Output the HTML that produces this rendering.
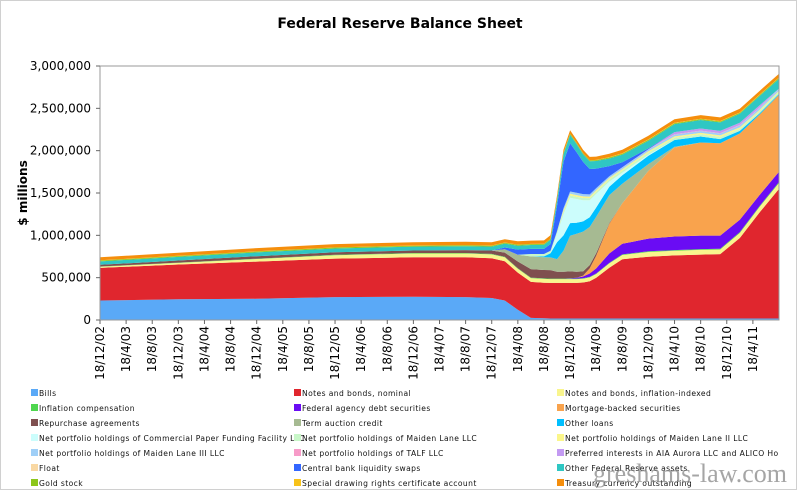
<!DOCTYPE html>
<html><head><meta charset="utf-8"><style>
body{margin:0;background:#fff;}
svg{display:block;font-family:"DejaVu Sans","Liberation Sans",sans-serif;}
</style></head><body>
<svg id="chart" width="800" height="491">
<rect x="0.5" y="0.5" width="796" height="489" fill="#fff" stroke="#d0d0d0"/>
<text x="400" y="28" text-anchor="middle" font-weight="bold" font-size="14" fill="#000">Federal Reserve Balance Sheet</text>
<text transform="translate(27,193) rotate(-90)" text-anchor="middle" font-weight="bold" font-size="12">$ millions</text>
<g id="areas"></g>
<rect x="100" y="66" width="679" height="254" fill="none" stroke="#999"/>
<g id="axes"></g>
<g id="legend"></g>
<text x="690" y="482" text-anchor="middle" font-family="Liberation Serif,serif" font-size="26" fill="#888" opacity="0.75">greshams-law.com</text>
</svg>
<script>
// months since Dec 2002
const months=[0,12,24,36,48,56,60,62,64,66,68,69,70,71,72,73,74,75,76,78,80,84,88,92,95,98,101,104];
// values in $ billions (x1000 = $ millions)
const bills   =[230,245,250,270,275,270,260,230,120,25,20,18,18,18,18,18,18,18,18,18,18,18,18,18,18,18,18,18];
const notes   =[385,410,440,455,465,470,470,465,440,425,420,420,420,420,420,420,425,440,480,600,700,730,745,755,760,950,1250,1530];
const inflIdx =[15,20,30,40,45,45,45,45,45,45,45,45,45,45,45,45,45,45,45,50,50,55,55,55,55,60,65,70];
const inflComp=[2,3,4,5,6,6,6,6,6,6,6,6,6,6,6,6,6,6,6,7,7,8,8,9,9,10,11,12];
const agency  =[0,0,0,0,0,0,0,0,0,0,0,0,0,0,5,10,20,40,60,110,125,150,160,160,155,145,130,120];
const mbs     =[0,0,0,0,0,0,0,0,0,0,0,0,0,0,0,0,10,60,150,350,480,800,1050,1100,1090,1020,950,910];
const repo    =[20,25,30,30,30,35,40,50,80,100,100,100,80,80,80,70,50,40,30,10,0,0,0,0,0,0,0,0];
const taf     =[0,0,0,0,0,0,0,40,80,150,150,150,150,250,420,450,470,450,430,330,230,80,10,0,0,0,0,0];
const otherLoans=[0,0,0,0,0,0,0,0,0,0,10,50,200,180,150,130,120,115,110,100,100,100,80,70,50,30,15,10];
const cpff    =[0,0,0,0,0,0,0,0,0,0,0,0,100,250,300,280,250,200,160,60,30,10,0,0,0,0,0,0];
const ml1     =[0,0,0,0,0,0,0,0,0,29,29,29,29,27,27,27,27,26,26,26,26,26,27,28,27,27,26,25];
const ml2     =[0,0,0,0,0,0,0,0,0,0,0,0,0,20,20,19,19,18,18,16,15,15,15,15,16,15,14,13];
const ml3     =[0,0,0,0,0,0,0,0,0,0,0,0,0,25,27,27,27,26,25,20,20,22,22,22,23,24,24,22];
const talf    =[0,0,0,0,0,0,0,0,0,0,0,0,0,0,0,0,0,0,0,1,2,3,4,5,5,5,4,3];
const aia     =[0,0,0,0,0,0,0,0,0,0,0,0,0,0,0,0,0,0,0,0,0,0,25,25,26,26,27,0];
const floatV  =[0,0,0,0,0,0,0,0,0,0,0,0,0,0,0,0,0,0,0,0,0,0,0,0,0,0,0,0];
const swaps   =[0,0,0,0,0,0,0,20,60,60,60,80,300,550,570,480,380,300,230,120,60,10,0,0,0,0,0,0];
const otherAssets=[40,42,44,45,46,46,46,46,46,46,48,50,70,90,100,95,90,90,90,90,90,90,95,100,100,105,110,115];
const gold    =[11,11,11,11,11,11,11,11,11,11,11,11,11,11,11,11,11,11,11,11,11,11,11,11,11,11,11,11];
const sdr     =[2,2,2,2,2,2,2,2,2,2,2,2,2,2,2,2,2,2,2,5,5,5,5,5,5,5,5,5];
const treasury=[36,37,38,38,38,39,39,39,39,39,39,39,39,39,39,39,39,39,39,40,41,42,42,42,43,43,43,44];

const seriesNames=["Bills","Notes and bonds, nominal","Notes and bonds, inflation-indexed","Inflation compensation","Federal agency debt securities","Mortgage-backed securities","Repurchase agreements","Term auction credit","Other loans","Net portfolio holdings of Commercial Paper Funding Facility LLC","Net portfolio holdings of Maiden Lane LLC","Net portfolio holdings of Maiden Lane II LLC","Net portfolio holdings of Maiden Lane III LLC","Net portfolio holdings of TALF LLC","Preferred interests in AIA Aurora LLC and ALICO Holdings LLC","Float","Central bank liquidity swaps","Other Federal Reserve assets","Gold stock","Special drawing rights certificate account","Treasury currency outstanding"];
const seriesData=[bills,notes,inflIdx,inflComp,agency,mbs,repo,taf,otherLoans,cpff,ml1,ml2,ml3,talf,aia,floatV,swaps,otherAssets,gold,sdr,treasury];
const colors=["#5aa9f7","#e0262e","#f9f58d","#4fd64f","#6a0cf4","#f9a34d","#7f4f4f","#a6ba92","#00bfff","#ccfdfc","#c8f7c8","#fbf68a","#9fcff7","#f79bc8","#c39af2","#f9d8a3","#3366ff","#2fc7c3","#8cc61b","#f7c21a","#f58e0c"];
const yTicks=[0,500000,1000000,1500000,2000000,2500000,3000000];
const xTickLabels=["18/12/02","18/4/03","18/8/03","18/12/03","18/4/04","18/8/04","18/12/04","18/4/05","18/8/05","18/12/05","18/4/06","18/8/06","18/12/06","18/4/07","18/8/07","18/12/07","18/4/08","18/8/08","18/12/08","18/4/09","18/8/09","18/12/09","18/4/10","18/8/10","18/12/10","18/4/11"];

const NS="http://www.w3.org/2000/svg";
const x0=100,x1=779,yBase=320,yTop=66,monthMax=104;
const xs=m=>x0+m*(x1-x0)/monthMax;
const ys=v=>yBase-v*(yBase-yTop)/3000000;
function mk(tag,attrs,parent){const e=document.createElementNS(NS,tag);for(const k in attrs)e.setAttribute(k,attrs[k]);parent.appendChild(e);return e;}

const areas=document.getElementById('areas');
let cum=months.map(()=>0);
seriesData.forEach((s,i)=>{
  const lower=cum.slice();
  const upper=cum.map((c,j)=>c+s[j]*1000);
  let d="M"+months.map((m,j)=>xs(m).toFixed(1)+","+ys(upper[j]).toFixed(1)).join("L");
  for(let j=months.length-1;j>=0;j--)d+="L"+xs(months[j]).toFixed(1)+","+ys(lower[j]).toFixed(1);
  d+="Z";
  const p=mk('path',{d:d,fill:colors[i]},areas);
  
  
  cum=upper;
});

const axes=document.getElementById('axes');
yTicks.forEach(v=>{
  const y=ys(v);
  const l=mk('line',{x1:96,x2:100,y1:y,y2:y,stroke:"#666"},axes);
  
  
  const t=mk('text',{x:91,y:y+4,'text-anchor':'end','font-size':12,fill:'#000'},axes);
  t.textContent=v.toLocaleString('en-US');
  
  
});
xTickLabels.forEach((lab,i)=>{
  const x=xs(i*4);
  const l=mk('line',{x1:x,x2:x,y1:320,y2:324,stroke:"#666"},axes);
  
  
  const t=mk('text',{transform:`translate(${x+4},326) rotate(-90)`,'text-anchor':'end','font-size':12,fill:'#000'},axes);
  t.textContent=lab;
  
  
});

const legend=document.getElementById('legend');
const colX=[31,294,557];
seriesNames.forEach((n,i)=>{
  const col=i%3,row=Math.floor(i/3);
  const x=colX[col],y=393+row*15;
  const g=mk('g',{},legend);
  
  
  mk('rect',{x:x,y:y-4,width:7,height:7,fill:colors[i]},g);
  let label=n;
  if(i===14)label="Preferred interests in AIA Aurora LLC and ALICO Ho";
  const t=mk('text',{x:x+8,y:y+3,'font-size':7.6,'letter-spacing':0.4,fill:'#111'},g);
  t.textContent=label;
});
</script>
</body></html>
